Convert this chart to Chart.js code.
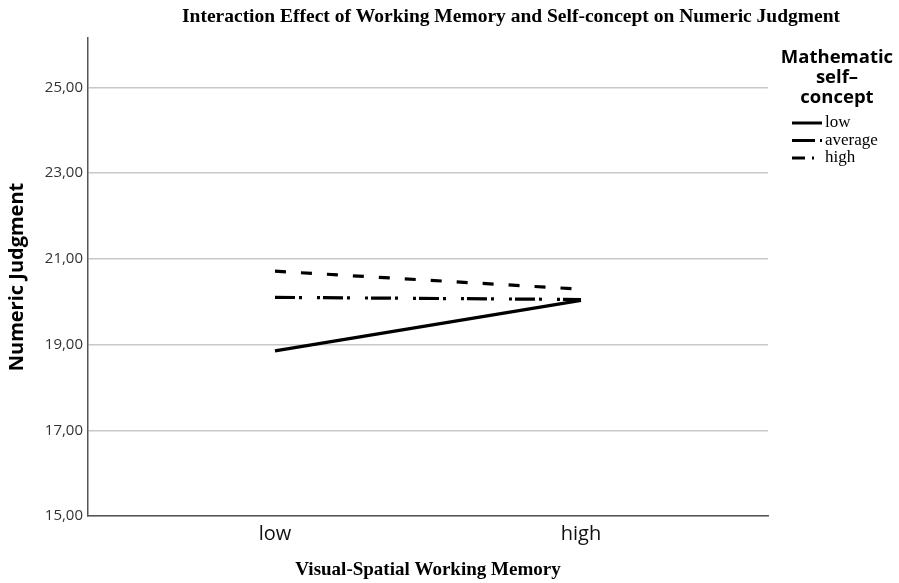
<!DOCTYPE html>
<html>
<head>
<meta charset="utf-8">
<script src="https://cdn.jsdelivr.net/npm/chart.js@4.4.1/dist/chart.umd.min.js"></script>
<style>
  html, body { margin: 0; padding: 0; background: #fff; }
  #wrap { width: 899px; height: 583px; }
</style>
</head>
<body>
<div id="wrap"><canvas id="chart"></canvas></div>
<script>
// x categories (Visual-Spatial Working Memory)
const memoryLevels = ['low', 'high'];
// series: Mathematic self-concept
const seriesNames = ['low', 'average', 'high'];
const lowValues = [18.85, 20.03];
const averageValues = [20.10, 20.05];
const highValues = [20.71, 20.29];
const yTicks = [15, 17, 19, 21, 23, 25];

const chartTitle = 'Interaction Effect of Working Memory and Self-concept on Numeric Judgment';
const legendTitle = ['Mathematic', 'self\u2013', 'concept'];

const dashes = [[], [20, 4, 3, 15, 3, 3], [11, 15]];
const legendDashes = [[], [23, 5, 2, 40], [13, 7, 2, 40]];
const seriesValues = [lowValues, averageValues, highValues];

const datasets = seriesNames.map((name, i) => ({
  label: name,
  data: seriesValues[i].map((v, j) => ({ x: j, y: v })),
  borderColor: '#000',
  borderWidth: 3.2,
  borderDash: dashes[i],
  pointRadius: 0,
  fill: false
}));

// title (off-centre in the original) and legend on the right
const decorations = {
  id: 'decorations',
  afterDraw(chart) {
    const ctx = chart.ctx;
    ctx.save();
    ctx.fillStyle = '#000';
    ctx.textAlign = 'center';
    ctx.textBaseline = 'middle';
    ctx.font = 'bold 19.5px "Liberation Serif", serif';
    ctx.fillText(chartTitle, 511, 17);

    ctx.font = 'bold 18.5px "Open Sans", sans-serif';
    legendTitle.forEach((t, i) => {
      ctx.fillText(t, 837, 58 + i * 20);
    });
    ctx.textAlign = 'left';
    ctx.font = '17px "Liberation Serif", serif';
    chart.data.datasets.forEach((ds, i) => {
      const y = 123 + i * 17.5;
      ctx.strokeStyle = ds.borderColor;
      ctx.lineWidth = 3;
      ctx.setLineDash(legendDashes[i]);
      ctx.beginPath();
      ctx.moveTo(792, y);
      ctx.lineTo(822, y);
      ctx.stroke();
      ctx.fillText(ds.label, 825, y);
    });
    ctx.restore();
  }
};

new Chart(document.getElementById('chart'), {
  type: 'line',
  data: { datasets: datasets },
  options: {
    responsive: true,
    maintainAspectRatio: false,
    animation: false,
    layout: { padding: { left: 0, right: 131, top: 38, bottom: 0 } },
    plugins: {
      legend: { display: false },
      tooltip: { enabled: false },
      title: { display: false }
    },
    scales: {
      x: {
        type: 'linear',
        min: -0.611,
        max: 1.611,
        afterBuildTicks(scale) {
          scale.ticks = memoryLevels.map((_, i) => ({ value: i }));
        },
        afterFit(scale) { scale.height = 67; },
        grid: { display: false, drawTicks: false },
        border: { color: '#555', width: 1.5 },
        ticks: {
          color: '#111',
          font: { family: '"Open Sans", sans-serif', size: 20 },
          padding: 6,
          callback: v => memoryLevels[v]
        },
        title: {
          display: true,
          text: 'Visual-Spatial Working Memory',
          color: '#000',
          font: { family: '"Liberation Serif", serif', size: 19, weight: 'bold' },
          padding: { top: 4, bottom: 2 }
        }
      },
      y: {
        min: 15,
        max: 26.15,
        afterBuildTicks(scale) {
          scale.ticks = yTicks.map(v => ({ value: v }));
        },
        afterFit(scale) { scale.width = 88; },
        grid: { color: '#c8c8c8', lineWidth: 1.5, drawTicks: false },
        border: { color: '#555', width: 1.5 },
        ticks: {
          color: '#333',
          font: { family: '"Open Sans", sans-serif', size: 15 },
          padding: 5,
          callback: v => v.toFixed(2).replace('.', ',')
        },
        title: {
          display: true,
          text: 'Numeric Judgment',
          color: '#000',
          font: { family: '"Open Sans", sans-serif', size: 20, weight: 'bold' },
          padding: { top: 5, bottom: 0 }
        }
      }
    }
  },
  plugins: [decorations]
});
</script>
</body>
</html>
